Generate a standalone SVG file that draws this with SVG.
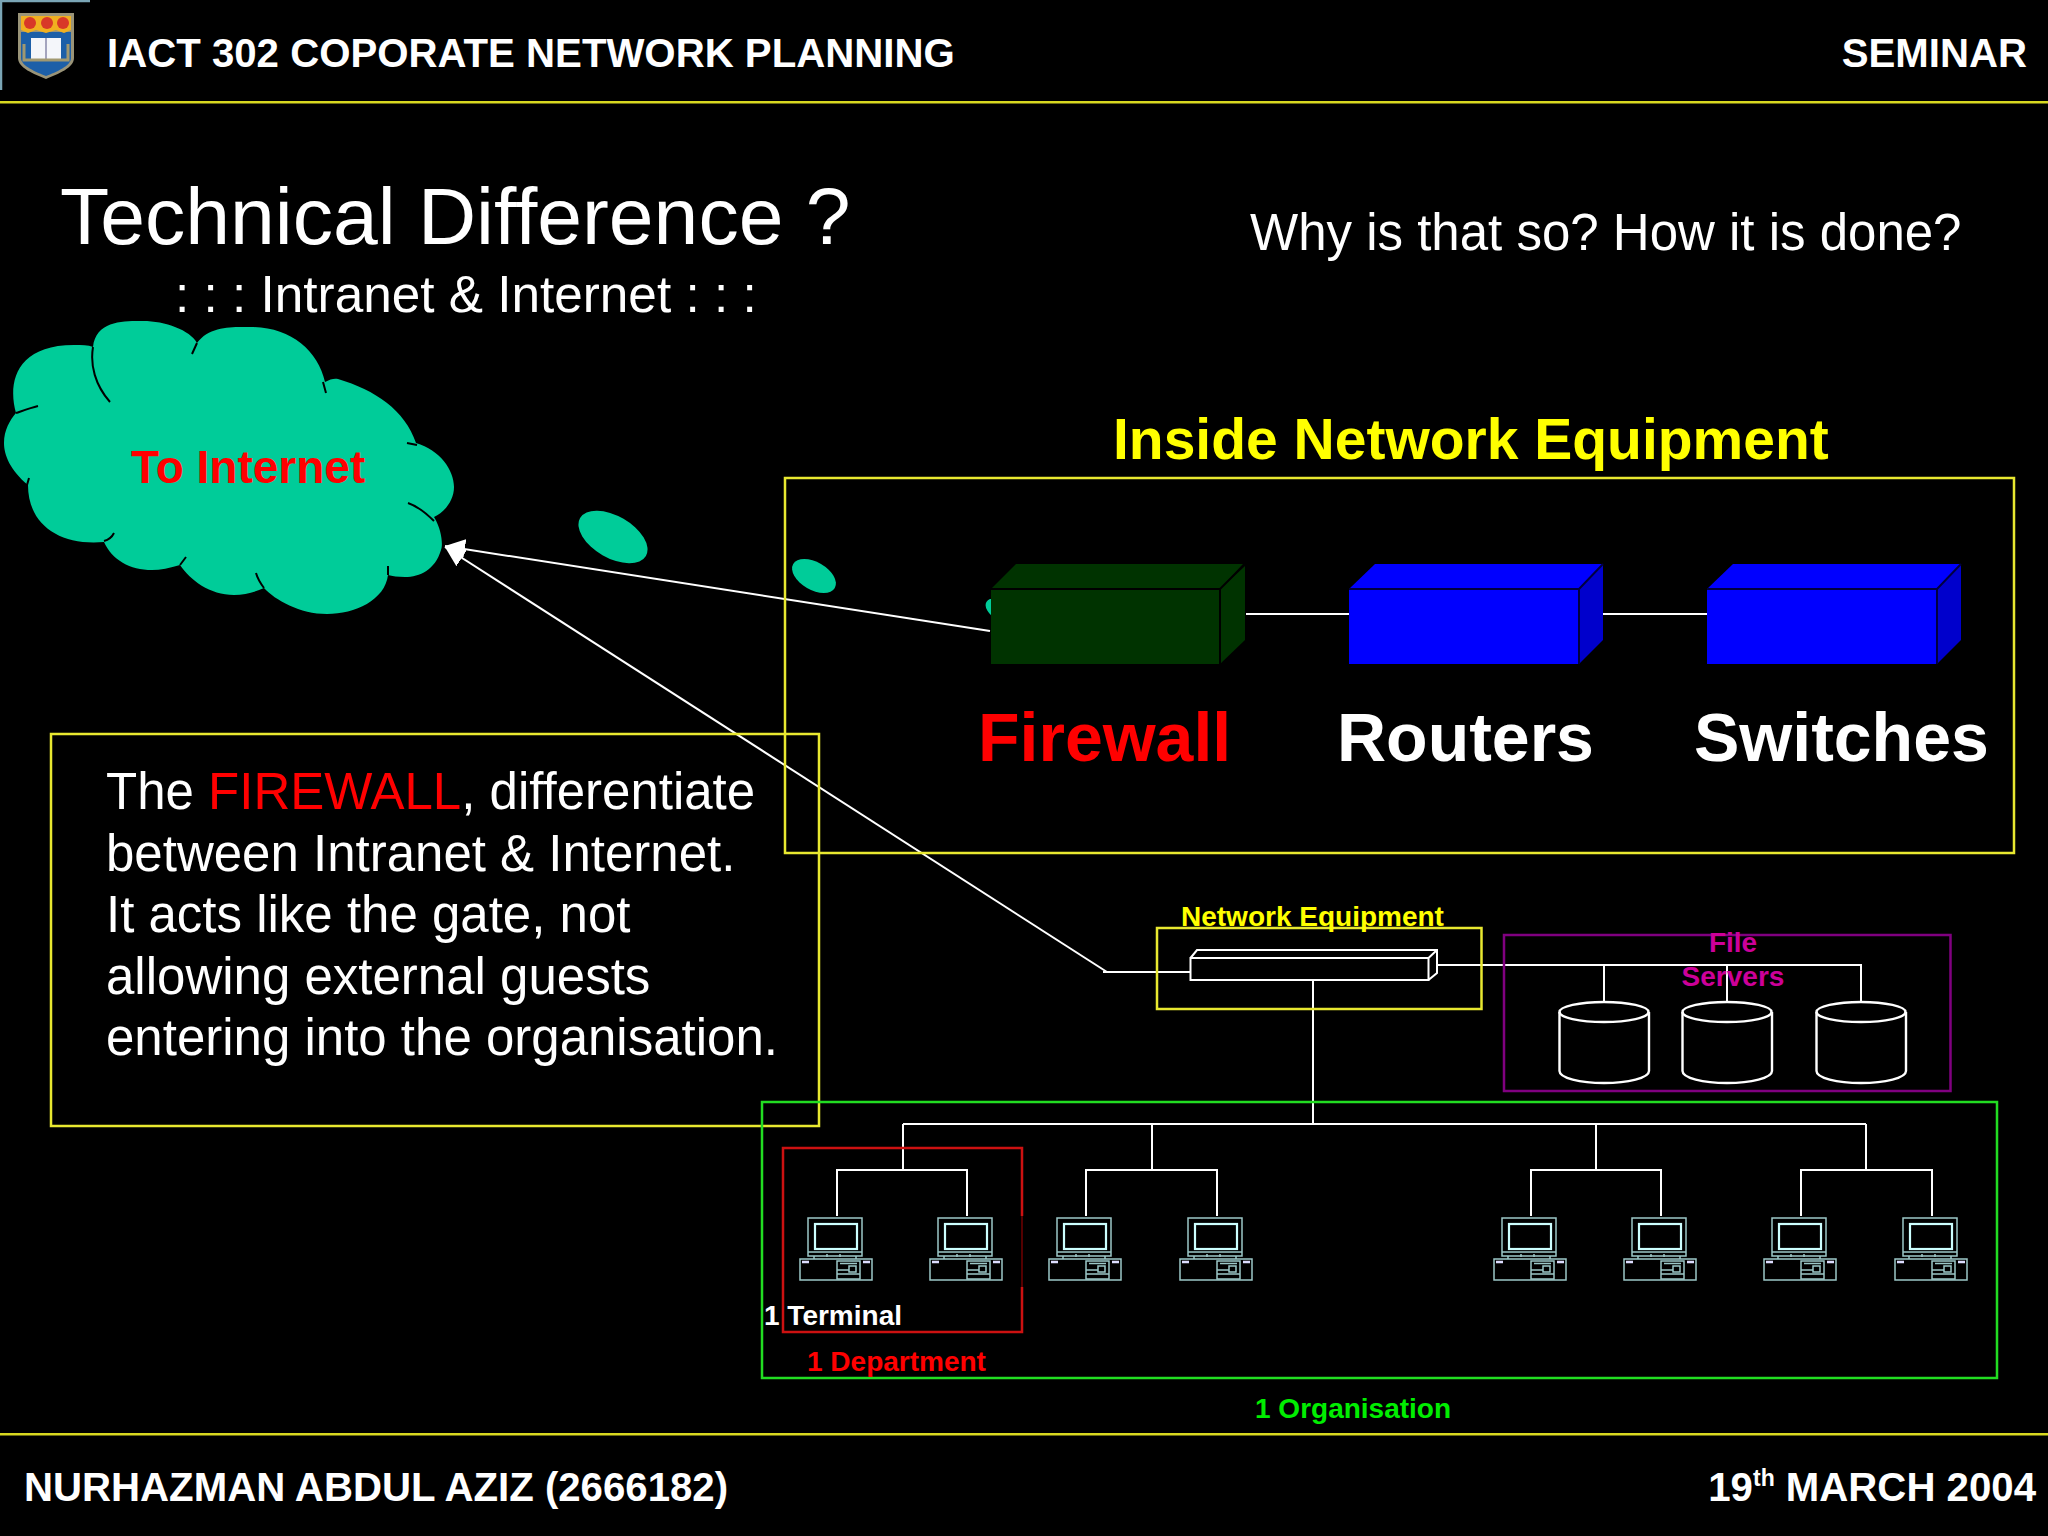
<svg xmlns="http://www.w3.org/2000/svg" xmlns:xlink="http://www.w3.org/1999/xlink" width="2048" height="1536" viewBox="0 0 2048 1536">
<style>
text{font-family:"Liberation Sans",Arial,sans-serif;fill:#fff}
.b{font-weight:bold}
.w{fill:#fff}.y{fill:#ffff00}.r{fill:#ff0000}.g{fill:#00ee00}.m{fill:#cc0099}
.hf{font-size:40.200px;font-weight:bold}
.lab{font-size:28px;font-weight:bold}
.big{font-size:68px;font-weight:bold}
.body{font-size:51px}
.conn{stroke:#fff;stroke-width:2;fill:none}
.frame{fill:none;stroke-width:2.5}
.crease{fill:none;stroke:#000;stroke-width:2}
.cyl{fill:none;stroke:#fff;stroke-width:2.4}
.pc{fill:none;stroke:#9cc8c8;stroke-width:1.5}
.edge{stroke:#000;stroke-width:2;fill:none}
.edge2{stroke:#000040;stroke-width:2;fill:none}
</style>
<defs>
<marker id="arrow" markerUnits="userSpaceOnUse" markerWidth="24" markerHeight="22" refX="20" refY="10" orient="auto-start-reverse" viewBox="0 0 24 20">
<path d="M0,0 L20,10 L0,20 Z" fill="#fff"/>
</marker>
<g id="pc">
<rect class="pc" x="-29" y="2" width="54" height="38"/>
<rect x="-22" y="8" width="42" height="25" fill="none" stroke="#ccffff" stroke-width="2.2"/>
<path class="pc" d="M-29,36H25M-23,40V43M-10,38V41M3,38V41M19,40V43"/>
<rect class="pc" x="-37" y="43" width="72" height="21"/>
<path d="M-35,46H-28M26,46H33" stroke="#ddf" stroke-width="2.5" fill="none"/>
<rect class="pc" x="0" y="45" width="23" height="18"/>
<path class="pc" d="M3,47.500H20M0,54H12M0,58H23"/>
<rect class="pc" x="12" y="50" width="7" height="6"/>
</g>
</defs>
<rect width="2048" height="1536" fill="#000"/>

<g id="header">
<path d="M1,90V1H90" fill="none" stroke="#7aa5b5" stroke-width="2.500"/>
<g id="logo">
<path d="M18,13H74V58C74,68 58,74 46,79C34,74 18,68 18,58Z" fill="#9a9478"/>
<path d="M21,32H71V58C71,66 56,72 46,76C36,72 21,66 21,58Z" fill="#1c5fa8"/>
<path d="M21,16H71V30L64,33L56,30L46,33L36,30L28,33L21,30Z" fill="#f0b020"/>
<circle cx="30" cy="23" r="6" fill="#d83828"/><circle cx="47" cy="23" r="6" fill="#d83828"/><circle cx="63" cy="23" r="6" fill="#d83828"/>
<rect x="31" y="38" width="30" height="22" fill="#f4f6fa"/>
<path d="M46,38V60" stroke="#88a" stroke-width="1.500"/>
<path d="M24,44V60H68V44" fill="none" stroke="#a09870" stroke-width="3"/>
</g>
<text class="hf" x="107" y="67">IACT 302 COPORATE NETWORK PLANNING</text>
<text class="hf" x="2027" y="67" text-anchor="end">SEMINAR</text>
<rect x="0" y="101" width="2048" height="2.500" fill="#d8d820"/>
</g>

<g id="titles">
<text x="60" y="244" font-size="80.500">Technical Difference ?</text>
<text x="175" y="312" font-size="51.300">: : : Intranet &amp; Internet : : :</text>
<text x="1250" y="250" font-size="51">Why is that so? How it is done?</text>
</g>

<g id="cloud">
<ellipse cx="1002" cy="611" rx="18" ry="10" fill="#00cc99" transform="rotate(30 1002 611)"/>
<ellipse cx="814" cy="576" rx="24" ry="14" fill="#00cc99" transform="rotate(30 814 576)"/>
<ellipse cx="613" cy="537" rx="38" ry="21" fill="#00cc99" transform="rotate(30 613 537)"/>
<path fill="#00cc99" d="M16,413C8,385 14,345 74,345C82,345 88,345 93,347C96,320 125,321 143,321C165,321 190,330 197,343C210,325 235,327 251,327C290,327 318,350 325,382C330,379 335,378 338,379C375,390 405,410 416,443C440,450 454,470 454,487C454,500 445,512 434,517C442,530 443,545 441,550C435,570 420,577 405,577C398,577 392,576 388,575C385,600 355,614 327,614C300,614 275,600 264,588C255,592 245,595 234,595C210,595 190,580 180,565C170,568 160,570 152,570C130,570 112,560 104,542C60,546 28,525 28,485C10,470 4,455 4,443C4,430 10,420 16,413Z"/>
<path class="crease" d="M93,347C90,365 95,385 110,402M197,343L192,354M323,382L326,393M407,443L417,445M408,503C420,507 430,517 434,521M388,566V575M256,573C258,580 261,584 264,588M186,557L180,565M114,533C112,537 108,540 104,541M29,478L27,485M38,406C30,408 22,411 16,413"/>
<text class="b r" x="131" y="483" font-size="46">To Internet</text>
</g>

<g id="connectors">
<path class="conn" d="M1246,614H1349M1603,614H1707"/>
<path class="conn" d="M990,631L445,546" marker-end="url(#arrow)"/>
<path class="conn" d="M1107,972L445,547" marker-end="url(#arrow)"/>
<path class="conn" d="M1103,972H1190M1437,965H1861V1002M1604,965V1002M1727,965V1002"/>
<path class="conn" d="M1313,980V1124M903,1124H1866"/>
<path class="conn" d="M903,1124V1170M837,1216V1170H967V1216"/>
<path class="conn" d="M1152,1124V1170M1086,1216V1170H1217V1216"/>
<path class="conn" d="M1596,1124V1170M1531,1216V1170H1661V1216"/>
<path class="conn" d="M1866,1124V1170M1801,1216V1170H1932V1216"/>
</g>

<g id="inside-frame">
<rect class="frame" x="785" y="478" width="1229" height="375" stroke="#e8e830"/>
<text class="b y" x="1113" y="459" font-size="57">Inside Network Equipment</text>
</g>

<g id="firewall">
<path d="M991,589L1016,564H1243L1220,589Z" fill="#003300"/>
<path d="M1220,589L1245,566V640L1220,664Z" fill="#003300"/>
<rect x="991" y="589" width="229" height="75" fill="#003300"/>
<path class="edge" d="M991,589H1220V664M1220,589L1244,565"/>
<text class="big r" x="978" y="761">Firewall</text>
</g>
<g id="routers">
<path d="M1349,589L1375,564H1603L1579,589Z" fill="#0000ff"/>
<path d="M1579,589L1603,564V640L1579,664Z" fill="#0000cc"/>
<rect x="1349" y="589" width="230" height="75" fill="#0000ff"/>
<path class="edge2" d="M1349,589H1579V664M1579,589L1603,564"/>
<text class="big w" x="1337" y="761">Routers</text>
</g>
<g id="switches">
<path d="M1707,589L1733,564H1961L1937,589Z" fill="#0000ff"/>
<path d="M1937,589L1961,564V640L1937,664Z" fill="#0000cc"/>
<rect x="1707" y="589" width="230" height="75" fill="#0000ff"/>
<path class="edge2" d="M1707,589H1937V664M1937,589L1961,564"/>
<text class="big w" x="1694" y="761">Switches</text>
</g>

<g id="firewall-note">
<rect class="frame" x="51" y="734" width="768" height="392" stroke="#e8e830"/>
<text class="body" x="106" y="809">The <tspan class="r">FIREWALL</tspan>, differentiate</text>
<text class="body" x="106" y="871">between Intranet &amp; Internet.</text>
<text class="body" x="106" y="932">It acts like the gate, not</text>
<text class="body" x="106" y="994">allowing external guests</text>
<text class="body" x="106" y="1055">entering into the organisation.</text>
</g>

<g id="network-equipment">
<rect class="frame" x="1157" y="928" width="324.500" height="81" stroke="#e8e830"/>
<path class="conn" stroke-width="2.4" d="M1190.500,958H1428.500V980H1190.500ZM1190.500,958L1197,950H1437V973L1428.500,980M1428.500,958L1437,950"/>
<text class="lab y" x="1181" y="926">Network Equipment</text>
</g>

<g id="file-servers">
<rect class="frame" x="1504" y="935" width="446.500" height="156" stroke="#800080"/>
<text class="lab m" x="1733" y="952" text-anchor="middle">File</text>
<text class="lab m" x="1733" y="986" text-anchor="middle">Servers</text>
<g id="server-1"><path class="cyl" d="M1559.500,1012V1071C1559.500,1078 1580,1083 1604,1083S1649,1078 1649,1071V1012"/><ellipse class="cyl" cx="1604" cy="1012" rx="44.500" ry="10"/></g>
<g id="server-2"><path class="cyl" d="M1682.500,1012V1071C1682.500,1078 1703,1083 1727,1083S1772,1078 1772,1071V1012"/><ellipse class="cyl" cx="1727" cy="1012" rx="44.500" ry="10"/></g>
<g id="server-3"><path class="cyl" d="M1816.500,1012V1071C1816.500,1078 1837,1083 1861,1083S1906,1078 1906,1071V1012"/><ellipse class="cyl" cx="1861" cy="1012" rx="44.500" ry="10"/></g>
</g>

<g id="organisation">
<rect class="frame" x="762" y="1102" width="1235" height="276" stroke="#22dd22"/>
<text class="lab g" x="1255" y="1418">1 Organisation</text>
</g>
<g id="department">
<path class="frame" stroke="#cc1111" d="M1022,1216V1148H783V1332H1022V1287"/>
<path d="M1022,1216V1287" stroke="#700000" stroke-width="1.500"/>
<text class="lab r" x="807" y="1371">1 Department</text>
</g>
<g id="terminals">
<use id="pc-1" xlink:href="#pc" href="#pc" x="837" y="1216"/>
<use id="pc-2" xlink:href="#pc" href="#pc" x="967" y="1216"/>
<use id="pc-3" xlink:href="#pc" href="#pc" x="1086" y="1216"/>
<use id="pc-4" xlink:href="#pc" href="#pc" x="1217" y="1216"/>
<use id="pc-5" xlink:href="#pc" href="#pc" x="1531" y="1216"/>
<use id="pc-6" xlink:href="#pc" href="#pc" x="1661" y="1216"/>
<use id="pc-7" xlink:href="#pc" href="#pc" x="1801" y="1216"/>
<use id="pc-8" xlink:href="#pc" href="#pc" x="1932" y="1216"/>
<text class="lab w" x="764" y="1325">1 Terminal</text>
</g>

<g id="footer">
<rect x="0" y="1433" width="2048" height="2.500" fill="#d8d820"/>
<text class="hf" x="24" y="1501">NURHAZMAN ABDUL AZIZ (2666182)</text>
<text class="hf" x="2036" y="1501" text-anchor="end">19<tspan font-size="23" dy="-15">th</tspan><tspan dy="15"> MARCH 2004</tspan></text>
</g>
</svg>
